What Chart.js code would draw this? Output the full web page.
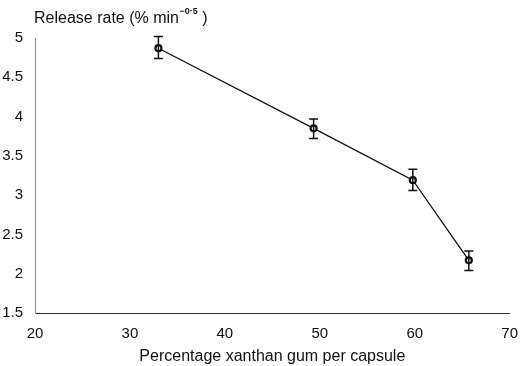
<!DOCTYPE html>
<html>
<head>
<meta charset="utf-8">
<script src="https://cdn.jsdelivr.net/npm/chart.js@4/dist/chart.umd.min.js"></script>
<style>
  html, body { margin: 0; padding: 0; background: #fff; }
  #wrap { width: 522px; height: 366px; }
</style>
</head>
<body>
<div id="wrap"><canvas id="rateCanvas" width="522" height="366"></canvas></div>
<script>
// xanthan gum content (%) and release rate with error limits
const xanthan = [33.0, 49.35, 59.8, 65.7];
const releaseRate = [4.87, 3.85, 3.19, 2.17];
const errHigh = [5.02, 3.97, 3.33, 2.29];
const errLow = [4.74, 3.72, 3.06, 2.04];
const xTicks = [20, 30, 40, 50, 60, 70];
const yTicks = [1.5, 2, 2.5, 3, 3.5, 4, 4.5, 5];

const font = "'Liberation Sans', Arial, sans-serif";

// error bars with caps
const errorBars = {
    id: "errorBars",
    afterDatasetsDraw(chart) {
        const { ctx, scales: { x, y } } = chart;
        ctx.save();
        ctx.strokeStyle = "#111";
        ctx.lineWidth = 1.5;
        xanthan.forEach((v, i) => {
            const px = x.getPixelForValue(v);
            const top = y.getPixelForValue(errHigh[i]);
            const bot = y.getPixelForValue(errLow[i]);
            ctx.beginPath();
            ctx.moveTo(px, top);
            ctx.lineTo(px, bot);
            ctx.moveTo(px - 4.5, top);
            ctx.lineTo(px + 4.5, top);
            ctx.moveTo(px - 4.5, bot);
            ctx.lineTo(px + 4.5, bot);
            ctx.stroke();
        });
        ctx.restore();
    },
};

// y axis title with superscript exponent
const yTitle = {
    id: "yTitle",
    afterDraw(chart) {
        const ctx = chart.ctx;
        ctx.save();
        ctx.fillStyle = "#111";
        ctx.textBaseline = "alphabetic";
        ctx.font = "16px " + font;
        const main = "Release rate (% min";
        ctx.fillText(main, 34, 23);
        let xPos = 34 + ctx.measureText(main).width;
        ctx.font = "bold 9px " + font;
        const sup = "−0·5";
        ctx.fillText(sup, xPos + 0.5, 14);
        xPos += ctx.measureText(sup).width + 5;
        ctx.font = "16px " + font;
        ctx.fillText(")", xPos, 23);
        ctx.restore();
    },
};

const ctx = document.getElementById("rateCanvas").getContext("2d");
const rateChart = new Chart(ctx, {
    type: "line",
    data: {
        datasets: [
            {
                data: xanthan.map((v, i) => ({ x: v, y: releaseRate[i] })),
                borderColor: "#111",
                borderWidth: 1.3,
                pointRadius: 3,
                pointBorderWidth: 2.2,
                pointBackgroundColor: "#fff",
                pointBorderColor: "#111",
                tension: 0,
            },
        ],
    },
    options: {
        responsive: false,
        animation: false,
        layout: { padding: { top: 38, right: 10, left: 0, bottom: 0 } },
        plugins: { legend: { display: false }, tooltip: { enabled: false } },
        scales: {
            x: {
                type: "linear",
                min: 20,
                max: 70,
                afterBuildTicks: (axis) => { axis.ticks = xTicks.map((v) => ({ value: v })); },
                afterFit: (axis) => { axis.height = 53; },
                grid: { display: false },
                border: { display: true, color: "#333", width: 1 },
                ticks: { color: "#111", font: { family: font, size: 15 }, padding: 4, maxRotation: 0 },
                title: {
                    display: true,
                    text: "Percentage xanthan gum per capsule",
                    color: "#111",
                    font: { family: font, size: 16 },
                    padding: { top: 13, bottom: 0 },
                },
            },
            y: {
                type: "linear",
                min: 1.5,
                max: 5,
                afterBuildTicks: (axis) => { axis.ticks = yTicks.map((v) => ({ value: v })); },
                afterFit: (axis) => { axis.width = 35; },
                grid: { display: false },
                border: { display: true, color: "#888", width: 1 },
                ticks: {
                    color: "#111",
                    font: { family: font, size: 15 },
                    padding: 4,
                    callback: (v) => String(v),
                },
            },
        },
    },
    plugins: [errorBars, yTitle],
});
</script>
</body>
</html>
